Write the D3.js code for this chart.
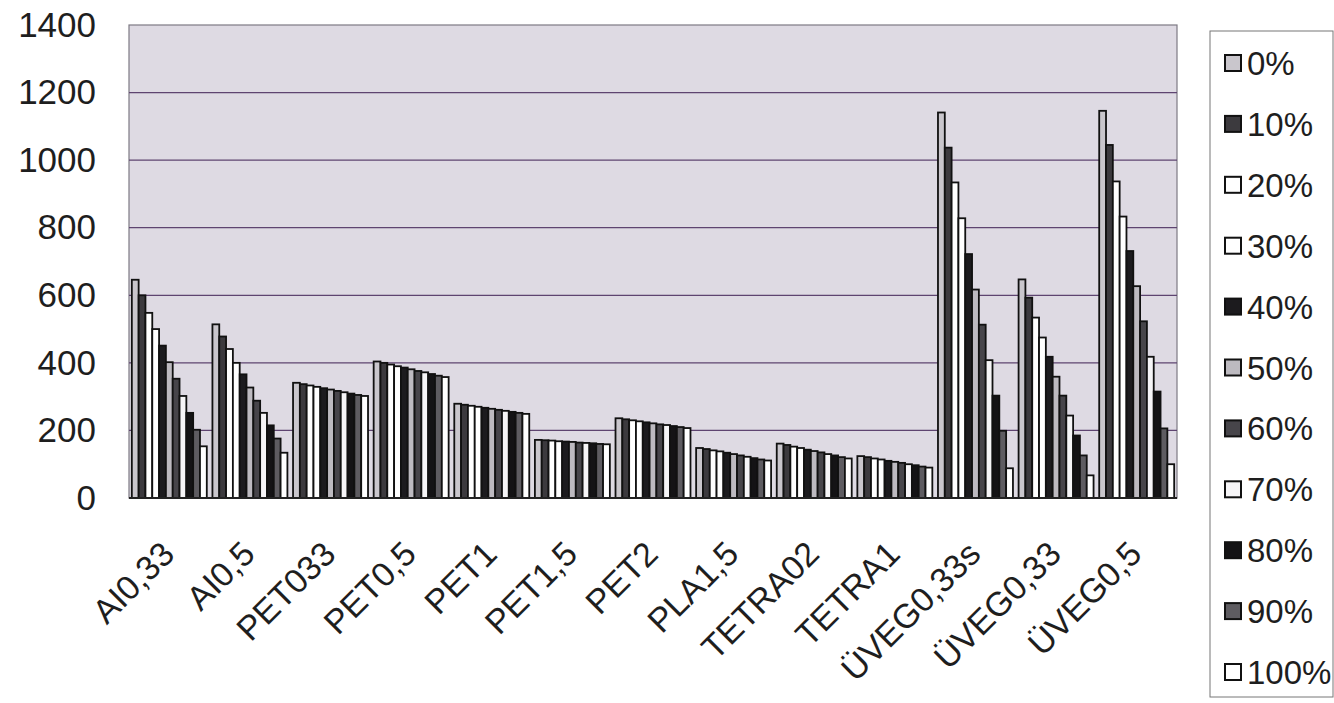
<!DOCTYPE html>
<html>
<head>
<meta charset="utf-8">
<script src="https://cdn.jsdelivr.net/npm/d3@7"></script>
<style>
  body { margin: 0; background: #fff; }
  svg { font-family: "Liberation Sans", Arial, sans-serif; }
</style>
</head>
<body>
<svg id="chart" width="1334" height="703"></svg>
<script>
var categories = ["AI0,33", "AI0,5", "PET033", "PET0,5", "PET1", "PET1,5", "PET2", "PLA1,5", "TETRA02", "TETRA1", "ÜVEG0,33s", "ÜVEG0,33", "ÜVEG0,5"];
var seriesNames = ["0%", "10%", "20%", "30%", "40%", "50%", "60%", "70%", "80%", "90%", "100%"];
var yTicks = [0, 200, 400, 600, 800, 1000, 1200, 1400];

// one row per category, one value per series (0% .. 100%)
var AI033   = [646, 600, 548, 500, 451, 402, 353, 302, 252, 202, 153];
var AI05    = [514, 478, 441, 400, 366, 327, 288, 252, 215, 176, 134];
var PET033  = [341, 337, 333, 329, 325, 321, 317, 313, 309, 305, 302];
var PET05   = [404, 400, 395, 390, 386, 381, 376, 372, 367, 362, 358];
var PET1    = [279, 276, 273, 270, 267, 264, 261, 258, 255, 252, 249];
var PET15   = [172, 171, 170, 168, 167, 166, 164, 163, 162, 160, 159];
var PET2    = [236, 233, 230, 227, 224, 221, 218, 216, 213, 210, 207];
var PLA15   = [148, 145, 141, 138, 134, 130, 126, 122, 118, 114, 111];
var TETRA02 = [161, 157, 152, 148, 143, 139, 135, 130, 126, 121, 117];
var TETRA1  = [124, 121, 117, 114, 110, 107, 104, 100, 97, 93, 90];
var UVEG033s = [1141, 1037, 934, 828, 722, 617, 513, 408, 303, 199, 88];
var UVEG033  = [647, 593, 534, 475, 418, 359, 303, 244, 185, 126, 67];
var UVEG05   = [1146, 1045, 937, 833, 731, 627, 523, 418, 315, 206, 100];

var values = [AI033, AI05, PET033, PET05, PET1, PET15, PET2, PLA15, TETRA02, TETRA1, UVEG033s, UVEG033, UVEG05];

var fills = ["#c9c6cc", "#3c3a3e", "#ffffff", "#ffffff", "#1c1b1e", "#bdbac0", "#47454a", "#f6f5f7", "#141315", "#5e5c61", "#ffffff"];

var svg = d3.select("#chart");

var plotLeft = 129, plotRight = 1177, plotTop = 25, plotBottom = 498;

var x = d3.scaleBand()
	.domain(categories)
	.range([plotLeft, plotRight])
	.paddingInner(0.07)
	.paddingOuter(0.035);

var xs = d3.scaleBand()
	.domain(seriesNames)
	.range([0, x.bandwidth()]);

var y = d3.scaleLinear()
	.domain([0, 1400])
	.range([plotBottom, plotTop]);

// plot background
svg.append("rect")
	.attr("x", plotLeft)
	.attr("y", plotTop)
	.attr("width", plotRight - plotLeft)
	.attr("height", plotBottom - plotTop)
	.attr("fill", "#dedae3")
	.attr("stroke", "#7d7a84")
	.attr("stroke-width", 1.2);

// grid lines
svg.append("g")
	.selectAll("line")
	.data(yTicks.filter(function(d){ return d > 0 && d < 1400; }))
	.enter()
	.append("line")
		.attr("x1", plotLeft)
		.attr("x2", plotRight)
		.attr("y1", function(d){ return y(d); })
		.attr("y2", function(d){ return y(d); })
		.attr("stroke", "#5e4470")
		.attr("stroke-width", 1.2);

// y axis
var yAxis = svg.append("g")
	.attr("transform", "translate(" + plotLeft + ",0)")
	.call(d3.axisLeft(y).tickValues(yTicks).tickFormat(d3.format("d")).tickSize(0).tickPadding(33));
yAxis.select(".domain").remove();
yAxis.selectAll("text")
	.attr("font-size", "35px")
	.attr("fill", "#1e1e1e")
	.attr("font-family", "Liberation Sans, Arial, sans-serif");

// bars
var groups = svg.append("g")
	.selectAll("g")
	.data(categories)
	.enter()
	.append("g")
		.attr("transform", function(d){ return "translate(" + x(d) + ",0)"; });

groups.selectAll("rect")
	.data(function(d, i){ return values[i].map(function(v, j){ return {s: seriesNames[j], v: v, j: j}; }); })
	.enter()
	.append("rect")
		.attr("x", function(d){ return xs(d.s); })
		.attr("y", function(d){ return y(d.v); })
		.attr("width", xs.bandwidth())
		.attr("height", function(d){ return y(0) - y(d.v); })
		.attr("fill", function(d){ return fills[d.j]; })
		.attr("stroke", "#111")
		.attr("stroke-width", 1.8);

// baseline
svg.append("line")
	.attr("x1", plotLeft)
	.attr("x2", plotRight)
	.attr("y1", plotBottom)
	.attr("y2", plotBottom)
	.attr("stroke", "#222")
	.attr("stroke-width", 2);

// x labels
svg.append("g")
	.selectAll("text")
	.data(categories)
	.enter()
	.append("text")
		.attr("transform", function(d){ return "translate(" + (x(d) + x.bandwidth() / 2 + 7) + ",556) rotate(-45)"; })
		.attr("text-anchor", "end")
		.attr("font-size", "34px")
		.attr("fill", "#1e1e1e")
		.text(function(d){ return d; });

// legend
var legend = svg.append("g");
legend.append("rect")
	.attr("x", 1210)
	.attr("y", 31)
	.attr("width", 123)
	.attr("height", 666)
	.attr("fill", "#fff")
	.attr("stroke", "#777")
	.attr("stroke-width", 1);

var items = legend.selectAll("g.item")
	.data(seriesNames)
	.enter()
	.append("g")
		.attr("class", "item")
		.attr("transform", function(d, i){ return "translate(1225," + (63 + i * 60.9) + ")"; });

items.append("rect")
	.attr("x", 0)
	.attr("y", -8)
	.attr("width", 16)
	.attr("height", 16)
	.attr("fill", function(d, i){ return fills[i]; })
	.attr("stroke", "#111")
	.attr("stroke-width", 2);

items.append("text")
	.attr("x", 22)
	.attr("y", 12)
	.attr("font-size", "33px")
	.attr("fill", "#1e1e1e")
	.text(function(d){ return d; });
</script>
</body>
</html>
